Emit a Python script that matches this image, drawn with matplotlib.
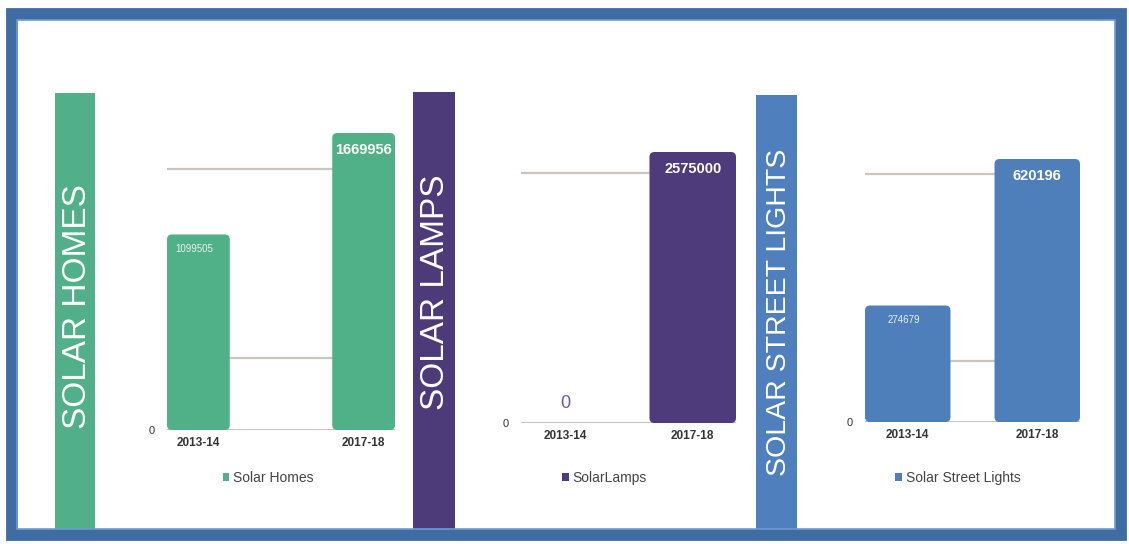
import matplotlib
matplotlib.use("Agg")
import matplotlib.pyplot as plt
from matplotlib.patches import Rectangle, FancyBboxPatch, Patch

# Данные по трём направлениям
years = ["2013-14", "2017-18"]
titles = ["SOLAR HOMES", "SOLAR LAMPS", "SOLAR STREET LIGHTS"]
legend_names = ["Solar Homes", "SolarLamps", "Solar Street Lights"]
homes = [1099505, 1669956]
lamps = [0, 2575000]
street = [274679, 620196]
series = [homes, lamps, street]
# уровни горизонтальных линий сетки
grid_levels = [[405000, 1470000], [2375000], [145000, 585000]]

colors = ["#50b189", "#4e3b7b", "#4f7fbb"]
band_colors = ["#51b08a", "#4c3a79", "#4f80bd"]

W, H = 1129, 544
FONT = "Liberation Sans"

# геометрия панелей в пикселях: левый край, правый край, верх столбца, ноль
axes_px = [(167, 395, 133, 430), (521, 736, 152, 423), (865, 1080, 159, 422)]
xlims = [(-0.19, 1.19), (-0.35, 1.34), (-0.33, 1.33)]
bar_w = [0.38, 0.68, 0.66]
bands_px = [(55, 95, 93), (413, 455, 92), (756, 797, 95)]
title_y = [307, 292, 312]
title_size = [24, 24, 20.5]
legend_x = [268, 604, 958]


def fx(x):
    return x / W


def fy(y):
    return 1 - y / H


fig = plt.figure(figsize=(W / 100, H / 100), dpi=100)
fig.patch.set_facecolor("white")

# вертикальные цветные полосы с названиями
for (x0, x1, ytop), c, t, ty, ts in zip(bands_px, band_colors, titles, title_y, title_size):
    fig.patches.append(Rectangle((fx(x0), fy(534)), fx(x1 - x0), (534 - ytop) / H,
                                 transform=fig.transFigure, facecolor=c,
                                 edgecolor="none", zorder=1))
    fig.text(fx((x0 + x1) / 2 + 2), fy(ty), t, rotation=90, color="white",
             fontsize=ts, family=FONT, ha="center", va="center")

for i in range(3):
    left, right, top, base = axes_px[i]
    vals = series[i]
    ax = fig.add_axes([fx(left), fy(base), fx(right - left), (base - top) / H])
    ax.set_xlim(*xlims[i])
    ax.set_ylim(0, max(vals))
    ax.patch.set_alpha(0)
    for s in ax.spines.values():
        s.set_visible(False)

    for g in grid_levels[i]:
        ax.axhline(g, color="#cdc5bc", lw=1.6, zorder=1)
    ax.axhline(0, color="#b8afa6", lw=1.8, zorder=1)

    # столбцы со скруглёнными углами
    xr = (xlims[i][1] - xlims[i][0]) / (right - left)
    yr = max(vals) / (base - top)
    bars = ax.bar([0, 1], vals, width=bar_w[i], color=colors[i])
    for b in bars:
        b.remove()
        if b.get_height() <= 0:
            continue
        fb = FancyBboxPatch((b.get_x(), 0), b.get_width(), b.get_height(),
                            boxstyle="round,pad=0,rounding_size=%f" % (5 * xr),
                            mutation_aspect=yr / xr, facecolor=colors[i],
                            edgecolor="none", zorder=2, clip_on=False)
        ax.add_patch(fb)

    # подписи значений
    small, big = vals
    ax.annotate(str(big), (1, big), xytext=(0, -7), textcoords="offset points",
                ha="center", va="top", color="white", fontsize=10.5,
                fontweight="bold", family=FONT, zorder=3)
    if small > 0:
        ax.annotate(str(small), (0, small), xytext=(-3, -7), textcoords="offset points",
                    ha="center", va="top", color="#e8f0f0", fontsize=7,
                    family=FONT, zorder=3)
    else:
        ax.annotate("0", (0, 0), xytext=(0, 8), textcoords="offset points",
                    ha="center", va="bottom", color="#6a5d97", fontsize=13,
                    family=FONT, zorder=3)

    ax.set_yticks([0])
    ax.set_yticklabels(["0"], fontsize=8, color="#333333", family=FONT)
    ax.set_xticks([0, 1])
    ax.set_xticklabels(years, fontsize=8.5, color="#333333", family=FONT,
                       fontweight="bold")
    ax.tick_params(length=0, pad=5)
    ax.tick_params(axis="y", pad=9)

    handle = Patch(facecolor=colors[i], edgecolor="none")
    fig.legend([handle], [legend_names[i]], loc="center",
               bbox_to_anchor=(fx(legend_x[i]), fy(478)), frameon=False,
               handlelength=0.5, handleheight=0.5, handletextpad=0.25,
               prop={"family": FONT, "size": 10}, labelcolor="#444444")

# синяя рамка вокруг всего рисунка
fig.patches.append(Rectangle((fx(11.5), fy(535)), fx(1121 - 11.5), (535 - 13.5) / H,
                             transform=fig.transFigure, fill=False,
                             edgecolor="#3f6ca3", lw=8.5, zorder=5))
fig.patches.append(Rectangle((fx(17), fy(529)), fx(1115 - 17), (529 - 20) / H,
                             transform=fig.transFigure, fill=False,
                             edgecolor="#6d9bd0", lw=1.2, zorder=5))

fig.savefig("out.png", dpi=100)
